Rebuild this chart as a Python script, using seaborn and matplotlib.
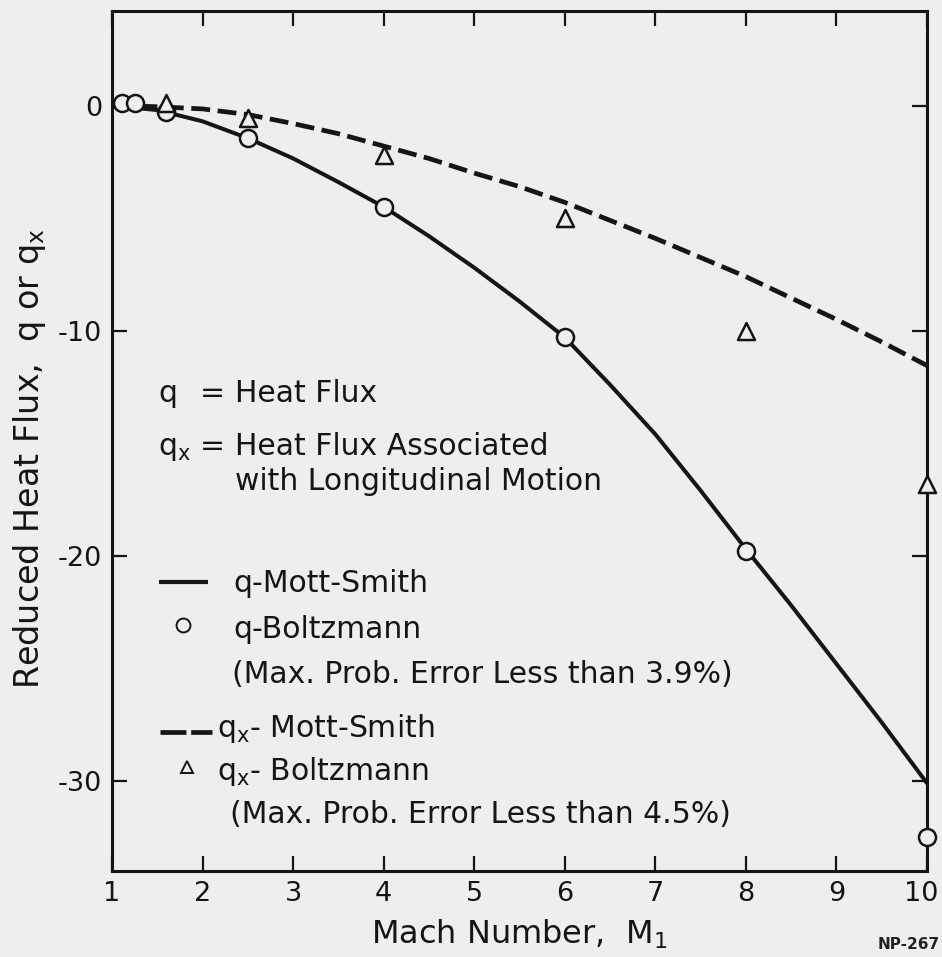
import matplotlib
matplotlib.use("Agg")
import matplotlib.pyplot as plt
import matplotlib.transforms as mtransforms
import seaborn as sns
import numpy as np
import pandas as pd

# ---- data ----
mach_curve = [1.0, 1.5, 2.0, 2.5, 3.0, 3.5, 4.0, 4.5, 5.0, 5.5, 6.0, 6.5, 7.0, 7.5, 8.0, 8.5, 9.0, 9.5, 10.0]
q_mott_smith = [0.0, -0.2, -0.7, -1.45, -2.35, -3.4, -4.5, -5.8, -7.2, -8.7, -10.3,
                -12.4, -14.6, -17.1, -19.7, -22.2, -24.8, -27.4, -30.1]
qx_mott_smith = [0.0, -0.05, -0.15, -0.4, -0.8, -1.25, -1.8, -2.35, -3.0, -3.6, -4.3,
                 -5.1, -5.9, -6.75, -7.6, -8.55, -9.5, -10.5, -11.55]

mach_q_boltz = [1.11, 1.25, 1.6, 2.5, 4.0, 6.0, 8.0, 10.0]
q_boltzmann = [0.1, 0.1, -0.3, -1.45, -4.5, -10.3, -19.8, -32.5]

mach_qx_boltz = [1.6, 2.5, 4.0, 6.0, 8.0, 10.0]
qx_boltzmann = [0.1, -0.55, -2.2, -5.0, -10.0, -16.8]

x_ticks = [1, 2, 3, 4, 5, 6, 7, 8, 9, 10]
y_ticks = [0, -10, -20, -30]

INK = "#151515"
PAPER = "#eeeeee"

sns.set_theme(style="ticks")
plt.rcParams["font.family"] = ["DejaVu Sans"]
plt.rcParams["axes.unicode_minus"] = False
plt.rcParams["mathtext.fontset"] = "dejavusans"

fig = plt.figure(figsize=(9.42, 9.57), dpi=100, facecolor=PAPER)
ax = fig.add_axes([112 / 942, 86 / 957, 815 / 942, 860 / 957])
ax.set_facecolor(PAPER)

df_curve = pd.DataFrame({"M": mach_curve, "q": q_mott_smith, "qx": qx_mott_smith})
sns.lineplot(data=df_curve, x="M", y="q", ax=ax, color=INK, linewidth=2.9, zorder=2)
sns.lineplot(data=df_curve, x="M", y="qx", ax=ax, color=INK, linewidth=3.4, zorder=2)
ax.lines[-1].set_dashes((4.0, 1.6))

sns.scatterplot(x=mach_q_boltz, y=q_boltzmann, ax=ax, marker="o", s=150,
                facecolor=PAPER, edgecolor=INK, linewidth=1.8, zorder=4, clip_on=False)
sns.scatterplot(x=mach_qx_boltz, y=qx_boltzmann, ax=ax, marker="^", s=150,
                facecolor=PAPER, edgecolor=INK, linewidth=1.8, zorder=4, clip_on=False)

ax.set_xlim(1, 10)
ax.set_ylim(-34, 4.2)
ax.set_xticks(x_ticks)
ax.set_yticks(y_ticks)
ax.set_xticklabels([str(t) for t in x_ticks])
ax.set_yticklabels([str(t) for t in y_ticks])
ax.tick_params(axis="both", direction="in", length=11, width=1.6, colors=INK,
               labelsize=19.5, top=True, right=True)
ax.tick_params(axis="x", pad=7)
ax.tick_params(axis="y", pad=7)
for sp in ax.spines.values():
    sp.set_visible(True)
    sp.set_linewidth(2.2)
    sp.set_color(INK)

# nudge the last x tick label ("10") slightly left so it stays inside the figure
last_lbl = ax.get_xticklabels()[-1]
last_lbl.set_transform(last_lbl.get_transform() +
                       mtransforms.ScaledTranslation(-6 / 100, 0, fig.dpi_scale_trans))

ax.set_xlabel(r"Mach Number,  $\mathrm{M_1}$", fontsize=23, color=INK)
ax.xaxis.set_label_coords(0.5, -0.054)
ax.set_ylabel(r"Reduced Heat Flux,  q or $\mathrm{q_x}$", fontsize=24, color=INK)
ax.yaxis.set_label_coords(-0.078, 0.479)

# ---- annotation block ----
def ax_x(px):
    return (px - 112) / 815

def ax_y(py):
    return (871 - py) / 860

tk = dict(transform=ax.transAxes, fontsize=21.5, color=INK, va="baseline", ha="left")
ax.text(ax_x(158), ax_y(402), "q", **tk)
ax.text(ax_x(200), ax_y(402), "=", **tk)
ax.text(ax_x(235), ax_y(402), "Heat Flux", **tk)
ax.text(ax_x(158), ax_y(455), r"$\mathrm{q_x}$", **tk)
ax.text(ax_x(200), ax_y(455), "=", **tk)
ax.text(ax_x(235), ax_y(455), "Heat Flux Associated", **tk)
ax.text(ax_x(235), ax_y(490), "with Longitudinal Motion", **tk)

# legend keys
ax.plot([ax_x(159), ax_x(208)], [ax_y(582), ax_y(582)], transform=ax.transAxes,
        color=INK, linewidth=3.0, solid_capstyle="butt")
ax.plot([ax_x(183)], [ax_y(625)], transform=ax.transAxes, marker="o", ms=10,
        mfc=PAPER, mec=INK, mew=1.4, linestyle="none")
lk, = ax.plot([ax_x(160), ax_x(212)], [ax_y(732), ax_y(732)], transform=ax.transAxes,
              color=INK, linewidth=3.4)
lk.set_dashes((5.5, 1.0))
ax.plot([ax_x(187)], [ax_y(767)], transform=ax.transAxes, marker="^", ms=9,
        mfc=PAPER, mec=INK, mew=1.4, linestyle="none")

ax.text(ax_x(233), ax_y(592), "q-Mott-Smith", **tk)
ax.text(ax_x(233), ax_y(638), "q-Boltzmann", **tk)
ax.text(ax_x(232), ax_y(683), "(Max. Prob. Error Less than 3.9%)", **tk)
ax.text(ax_x(217), ax_y(737), r"$\mathrm{q_x}$- Mott-Smith", **tk)
ax.text(ax_x(217), ax_y(780), r"$\mathrm{q_x}$- Boltzmann", **tk)
ax.text(ax_x(230), ax_y(823), "(Max. Prob. Error Less than 4.5%)", **tk)

fig.text(0.998, 0.008, "NP-267", fontsize=11, color="#222222", ha="right",
         va="baseline", fontweight="bold")

fig.savefig("out.png", dpi=100, facecolor=PAPER)
